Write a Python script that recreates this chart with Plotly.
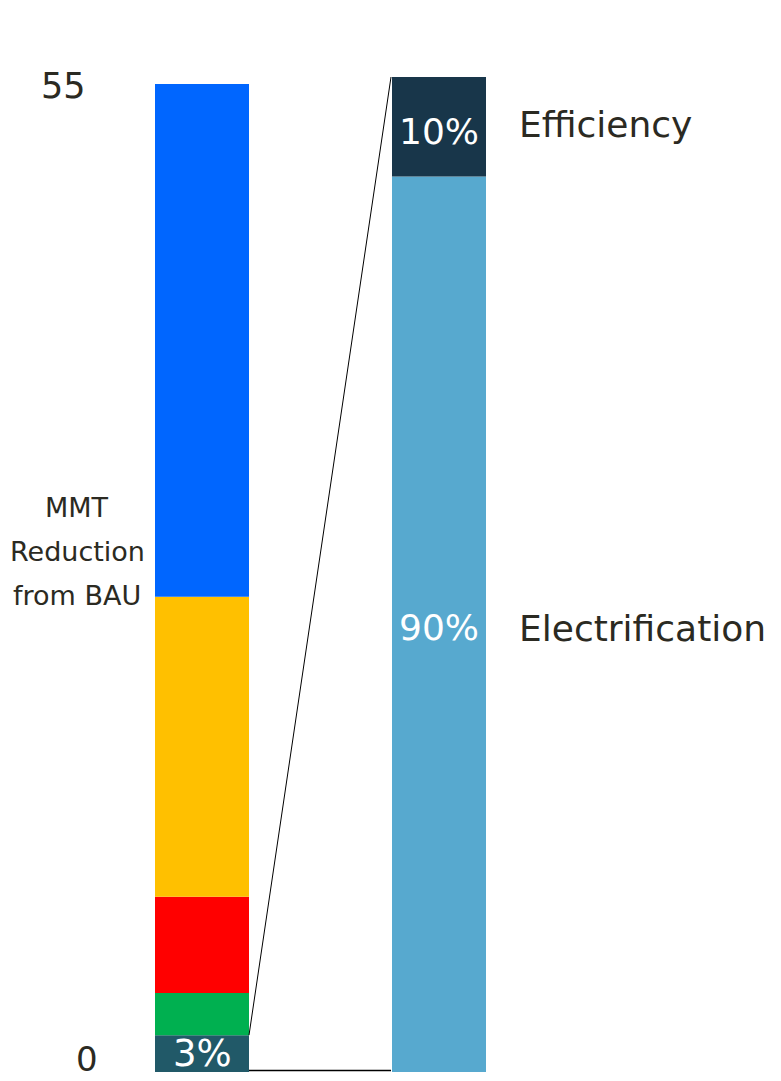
import plotly.graph_objects as go

# ---- data ----
left_segments = ["Segment A", "Segment B", "Segment C", "Segment D", "Segment E"]  # bottom -> top
left_values = [2.05, 2.35, 5.35, 16.7, 28.55]
left_colors = ["#215968", "#00B050", "#FF0000", "#FFC000", "#0066FF"]
left_labels = ["3%", "", "", "", ""]

right_categories = ["Electrification", "Efficiency"]  # bottom -> top
right_values = [90, 10]
right_colors = ["#57A9CF", "#18364A"]
right_labels = ["90%", "10%"]

axis_ticks = [0, 55]
axis_title_lines = ["MMT", "Reduction", "from BAU"]

# ---- layout constants ----
W, H = 781, 1081
TOP, BOTTOM = 77, 1072
LEFT_X, RIGHT_X, BAR_W = 202, 439, 94
left_total = sum(left_values)
left_top = left_total * (BOTTOM - TOP) / (BOTTOM - 84)
FONT = "DejaVu Sans"
TXT = "#2B2A22"

fig = go.Figure()

base = 0
for name, v, c, lab in zip(left_segments, left_values, left_colors, left_labels):
    fig.add_trace(go.Bar(x=[LEFT_X], y=[v], base=[base], width=BAR_W, marker_color=c,
                         marker_line_width=0, name=name, yaxis="y", showlegend=False,
                         hoverinfo="skip"))
    if lab:
        fig.add_annotation(x=LEFT_X, y=base + v / 2, text=lab, showarrow=False,
                           font=dict(family=FONT, size=37, color="white"),
                           xref="x", yref="y", yshift=0)
    base += v

label_shift = {"Electrification": -4, "Efficiency": 2}
pct_shift = {"Electrification": -3, "Efficiency": -5}
rbase = 0
for name, v, c, lab in zip(right_categories, right_values, right_colors, right_labels):
    fig.add_trace(go.Bar(x=[RIGHT_X], y=[v], base=[rbase], width=BAR_W, marker_color=c,
                         marker_line_width=0, name=name, yaxis="y2", showlegend=False,
                         hoverinfo="skip"))
    fig.add_annotation(x=RIGHT_X, y=rbase + v / 2, text=lab, showarrow=False,
                       font=dict(family=FONT, size=36, color="white"),
                       xref="x", yref="y2", yshift=pct_shift[name])
    fig.add_annotation(x=RIGHT_X + BAR_W / 2 + 31, y=rbase + v / 2, text=name, showarrow=False,
                       font=dict(family=FONT, size=36, color=TXT), xanchor="left",
                       xref="x", yref="y2", yshift=label_shift[name])
    rbase += v

# connector lines
fig.add_trace(go.Scatter(x=[LEFT_X + BAR_W / 2, RIGHT_X - BAR_W / 2 - 1],
                         y=[left_values[0], left_top], mode="lines",
                         line=dict(color="black", width=1), yaxis="y",
                         showlegend=False, hoverinfo="skip"))
fig.add_trace(go.Scatter(x=[LEFT_X + BAR_W / 2, RIGHT_X - BAR_W / 2 - 1],
                         y=[0.08, 0.08], mode="lines",
                         line=dict(color="black", width=1.5), yaxis="y",
                         showlegend=False, hoverinfo="skip"))

# axis labels
fig.add_annotation(x=63, y=axis_ticks[1], text=str(axis_ticks[1]), showarrow=False,
                   font=dict(family=FONT, size=35, color=TXT), xref="x", yref="y", yshift=-2)
fig.add_annotation(x=87, y=axis_ticks[0], text=str(axis_ticks[0]), showarrow=False,
                   font=dict(family=FONT, size=34, color=TXT), xref="x", yref="y",
                   yshift=13, borderpad=0)
for i, line in enumerate(axis_title_lines):
    fig.add_annotation(x=77, y=28.95, text=line, showarrow=False,
                       font=dict(family=FONT, size=27, color=TXT), xref="x", yref="y",
                       yshift=(1 - i) * 44)

fig.update_layout(
    width=W, height=H,
    margin=dict(l=0, r=0, t=TOP, b=H - BOTTOM),
    plot_bgcolor="white", paper_bgcolor="white",
    barmode="overlay",
    xaxis=dict(range=[0, W], visible=False, fixedrange=True),
    yaxis=dict(range=[0, left_top], visible=False, fixedrange=True),
    yaxis2=dict(range=[0, 100], visible=False, overlaying="y", fixedrange=True),
)

fig.write_html("out.html")
